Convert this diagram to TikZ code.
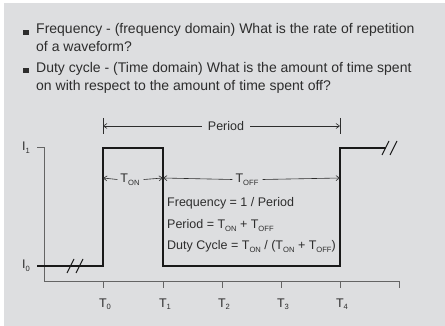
\documentclass[tikz,border=0pt]{standalone}
\usepackage{fontspec}
\setmainfont{Liberation Sans}
\usetikzlibrary{arrows.meta}
\definecolor{bg}{RGB}{221,222,224}
\definecolor{txt}{RGB}{45,45,45}
\definecolor{sig}{RGB}{25,25,25}
\definecolor{ax}{RGB}{100,100,100}
\newcommand{\sbs}[1]{\raisebox{-2.6pt}{\fontsize{7.6pt}{7.6pt}\selectfont #1}}
\begin{document}
\begin{tikzpicture}[x=1pt,y=-1pt,
  lbl/.style={inner sep=0pt, text=txt, font=\fontsize{12.5pt}{15pt}\selectfont},
  blbl/.style={inner sep=0pt, text=txt, font=\fontsize{14pt}{17pt}\selectfont},
  bulletsq/.style={rectangle, fill=txt, inner sep=0pt, minimum size=5.4pt},
  sigline/.style={line width=1.3pt, draw=sig, line join=miter},
  axline/.style={line width=1pt, draw=ax},
  dim/.style={line width=0.6pt, draw=txt},
  tip/.style={-{Straight Barb[length=3.5pt,width=5pt]}}
]
\useasboundingbox (0,0) rectangle (445,326);
\fill[bg] (4,3) rectangle (445,326);

% bullets
\node[bulletsq] (b1) at (26,32.7) {};
\node[bulletsq] (b2) at (26,70.7) {};
\node[blbl, anchor=base west] (l1) at (36,34) {Frequency - (frequency domain) What is the rate of repetition};
\node[blbl, anchor=base west] (l2) at (36,52) {of a waveform?};
\node[blbl, anchor=base west] (l3) at (36,73) {Duty cycle - (Time domain) What is the amount of time spent};
\node[blbl, anchor=base west] (l4) at (36,91) {on with respect to the amount of time spent off?};

% axes
\coordinate (i1t) at (37,148);
\coordinate (ytop) at (44,148);
\coordinate (orig) at (44,281);
\coordinate (xend) at (399,281);
\draw[axline] (i1t) -- (ytop) -- (orig) -- (xend);
\foreach \n/\x in {0/103,1/163,2/222,3/281,4/340} {
  \coordinate (tk\n) at (\x,281);
  \draw[axline] (tk\n) -- ++(0,7);
  \node[lbl, anchor=base] (tl\n) at (\x+2,307) {T\sbs{\n}};
}
\draw[axline] (xend) -- ++(0,7);

\node[lbl, anchor=base west] (I1) at (22,151) {I\sbs{1}};
\node[lbl, anchor=base west] (I0) at (22,269) {I\sbs{0}};

% signal
\coordinate (s0) at (37,266);
\coordinate (s1) at (103,266);
\coordinate (s2) at (103,148);
\coordinate (s3) at (163,148);
\coordinate (s4) at (163,266);
\coordinate (s5) at (340,266);
\coordinate (s6) at (340,148);
\coordinate (s7) at (386,148);
\draw[sigline] (s0) -- (s1) -- (s2) -- (s3) -- (s4) -- (s5) -- (s6) -- (s7);
% break marks
\coordinate (k1a) at (67,273); \coordinate (k1b) at (74,259);
\coordinate (k2a) at (76,273); \coordinate (k2b) at (83,259);
\draw[sigline, line width=1.1pt] (k1a) -- (k1b) (k2a) -- (k2b);
\coordinate (k3a) at (382,155); \coordinate (k3b) at (389,141);
\coordinate (k4a) at (390,155); \coordinate (k4b) at (397,141);
\draw[sigline, line width=1.1pt] (k3a) -- (k3b) (k4a) -- (k4b);

% period dimension
\coordinate (pl) at (103,126);
\coordinate (pr) at (340,126);
\draw[dim] (103,118) -- (103,134) (340,118) -- (340,134);
\node[lbl] (per) at (226,126) {Period};
\draw[dim, tip] ([xshift=-6pt]per.west) -- (pl);
\draw[dim, tip] ([xshift=6pt]per.east) -- (pr);

% Ton / Toff
\coordinate (a0) at (103,178);
\coordinate (a1) at (163,178);
\coordinate (a2) at (340,178);
\node[lbl] (ton) at (130,179.5) {T\sbs{ON}};
\node[lbl] (toff) at (247,179.5) {T\sbs{OFF}};
\draw[dim, tip] ([xshift=-3pt]ton.west) -- (a0);
\draw[dim, tip] ([xshift=4pt]ton.east) -- (a1);
\draw[dim, tip] ([xshift=-3pt]toff.west) -- (a1);
\draw[dim, tip] ([xshift=4pt]toff.east) -- (a2);

% formulas
\node[lbl, anchor=base west] (f1) at (167,207) {Frequency = 1 / Period};
\node[lbl, anchor=base west] (f2) at (167,229) {Period = T\sbs{ON} + T\sbs{OFF}};
\node[lbl, anchor=base west] (f3) at (167,250) {Duty Cycle = T\sbs{ON} / (T\sbs{ON} + T\sbs{OFF})};
\end{tikzpicture}
\end{document}
